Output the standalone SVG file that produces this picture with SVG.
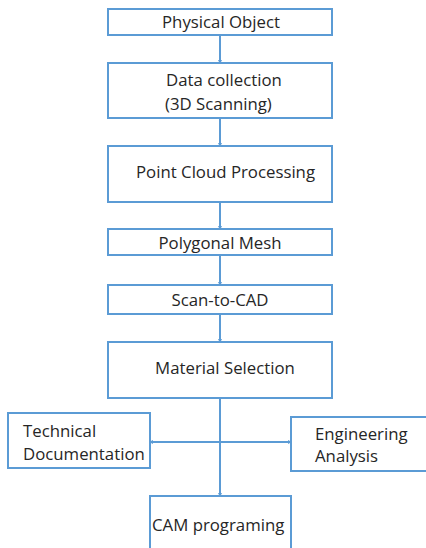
<svg xmlns="http://www.w3.org/2000/svg" width="426" height="548" viewBox="0 0 426 548">
<style>
.box{fill:#fff;stroke:#5b9bd5;stroke-width:2}
.t{font-family:"Open Sans","Liberation Sans",sans-serif;font-size:16.8px;fill:#262626}
.c{stroke:#5b9bd5;stroke-width:2;fill:none}
</style>
<defs>
<marker id="a" markerWidth="4" markerHeight="4" refX="3" refY="2" orient="auto" markerUnits="userSpaceOnUse"><path d="M0,0 L4,2 L0,4 Z" fill="#5b9bd5"/></marker>
</defs>
<rect width="426" height="548" fill="#fff"/>
<g id="connectors">
<line class="c" x1="220" y1="35" x2="220" y2="63" marker-end="url(#a)"/>
<line class="c" x1="220" y1="118" x2="220" y2="146" marker-end="url(#a)"/>
<line class="c" x1="220" y1="202" x2="220" y2="229" marker-end="url(#a)"/>
<line class="c" x1="220" y1="255" x2="220" y2="285" marker-end="url(#a)"/>
<line class="c" x1="220" y1="314" x2="220" y2="342" marker-end="url(#a)"/>
<line class="c" x1="220" y1="398" x2="220" y2="496" marker-end="url(#a)"/>
<line class="c" x1="220" y1="442" x2="150" y2="442" marker-end="url(#a)"/>
<line class="c" x1="220" y1="442" x2="291" y2="442" marker-end="url(#a)"/>
</g>
<g id="physical"><rect class="box" x="108" y="9" width="224" height="26"/><text class="t" x="221" y="28" text-anchor="middle">Physical Object</text></g>
<g id="data"><rect class="box" x="108" y="63" width="224" height="55"/><text class="t" x="166" y="86">Data collection</text><text class="t" x="165" y="110">(3D Scanning)</text></g>
<g id="pointcloud"><rect class="box" x="108" y="146" width="224" height="56"/><text class="t" x="136" y="178">Point Cloud Processing</text></g>
<g id="mesh"><rect class="box" x="108" y="229" width="224" height="26"/><text class="t" x="220" y="249" text-anchor="middle">Polygonal Mesh</text></g>
<g id="scan2cad"><rect class="box" x="108" y="285" width="224" height="29"/><text class="t" x="220" y="306" text-anchor="middle">Scan-to-CAD</text></g>
<g id="material"><rect class="box" x="108" y="342" width="224" height="56"/><text class="t" x="225" y="374" text-anchor="middle">Material Selection</text></g>
<g id="techdoc"><rect class="box" x="8" y="413" width="142" height="55"/><text class="t" x="23" y="437">Technical</text><text class="t" x="23" y="460">Documentation</text></g>
<g id="engineering"><rect class="box" x="291" y="417" width="140" height="54"/><text class="t" x="315" y="440">Engineering</text><text class="t" x="315" y="462">Analysis</text></g>
<g id="cam"><rect class="box" x="150" y="496" width="141" height="60"/><text class="t" x="152" y="531">CAM programing</text></g>
</svg>
